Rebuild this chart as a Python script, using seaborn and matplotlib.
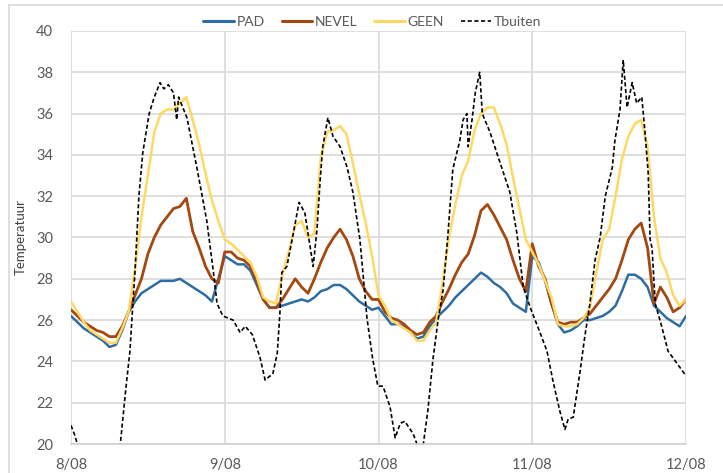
import matplotlib
matplotlib.use("Agg")
import matplotlib.pyplot as plt
import seaborn as sns
import numpy as np
import pandas as pd
from matplotlib.lines import Line2D

# temperatures 8/08 - 12/08, hourly values for the three indoor cases
hours = list(range(0, 97))

pad = [26.2, 25.9, 25.6, 25.4, 25.2, 25.0, 24.7, 24.8, 25.5, 26.4, 26.9, 27.3, 27.5, 27.7, 27.9, 27.9,
       27.9, 28.0, 27.8, 27.6, 27.4, 27.2, 26.9, 28.0, 29.1, 28.9, 28.7, 28.7, 28.4, 27.7, 27.0, 26.6,
       26.6, 26.7, 26.8, 26.9, 27.0, 26.9, 27.1, 27.4, 27.5, 27.7, 27.7, 27.5, 27.2, 26.9, 26.7, 26.5,
       26.6, 26.2, 25.8, 25.8, 25.7, 25.4, 25.1, 25.2, 25.7, 26.1, 26.4, 26.7, 27.1, 27.4, 27.7, 28.0,
       28.3, 28.1, 27.8, 27.6, 27.3, 26.8, 26.6, 26.4, 29.1, 28.8, 27.9, 26.8, 25.8, 25.4, 25.5, 25.7,
       26.0, 26.0, 26.1, 26.2, 26.4, 26.7, 27.4, 28.2, 28.2, 28.0, 27.6, 26.7, 26.4, 26.1, 25.9, 25.7,
       26.2]

nevel = [26.5, 26.2, 25.9, 25.7, 25.5, 25.4, 25.2, 25.2, 25.7, 26.4, 27.2, 28.0, 29.2, 30.0, 30.6, 31.0,
         31.4, 31.5, 31.9, 30.3, 29.5, 28.6, 28.0, 27.8, 29.3, 29.3, 29.0, 28.9, 28.6, 27.9, 27.0, 26.6,
         26.6, 27.0, 27.5, 28.0, 27.6, 27.3, 28.0, 28.8, 29.5, 30.0, 30.4, 29.9, 29.1, 28.0, 27.4, 27.0,
         27.0, 26.4, 26.1, 26.0, 25.8, 25.5, 25.3, 25.4, 25.9, 26.2, 26.9, 27.5, 28.2, 28.8, 29.2, 30.1,
         31.3, 31.6, 31.1, 30.5, 29.9, 28.9, 28.0, 27.4, 29.7, 28.6, 28.0, 26.8, 25.9, 25.8, 25.9, 25.9,
         26.1, 26.3, 26.7, 27.1, 27.5, 28.0, 28.9, 29.9, 30.4, 30.7, 29.5, 26.8, 27.6, 27.1, 26.4, 26.6,
         27.0]

geen = [26.9, 26.4, 25.9, 25.5, 25.3, 25.1, 24.9, 24.9, 25.6, 26.4, 28.5, 31.0, 33.0, 35.1, 36.0, 36.2,
        36.2, 36.5, 36.8, 35.7, 34.5, 33.1, 31.8, 30.8, 29.9, 29.7, 29.4, 29.1, 28.8, 28.1, 27.1, 26.9,
        26.8, 28.2, 29.3, 30.6, 30.8, 30.0, 30.2, 33.9, 35.1, 35.2, 35.4, 35.0, 33.6, 32.1, 30.7, 29.1,
        27.2, 26.7, 26.0, 25.8, 25.6, 25.4, 25.0, 25.0, 25.5, 25.9, 27.8, 30.0, 31.6, 33.0, 33.7, 35.2,
        36.0, 36.3, 36.3, 35.5, 34.5, 32.9, 31.4, 29.9, 29.3, 28.7, 27.9, 27.1, 25.8, 25.7, 25.7, 25.8,
        26.1, 26.6, 28.3, 29.9, 30.4, 32.0, 33.8, 34.9, 35.5, 35.7, 34.4, 31.0, 29.0, 28.3, 27.2, 26.7,
        27.0]

# outside temperature, read at irregular times (hours since 8/08 00:00)
tb_hours = [0, 0.5, 1.0, 2, 4, 6, 7, 7.7, 8.5, 9.2, 9.5, 10, 10.6, 11.2, 12.2, 13.0, 13.9, 14.5, 15.2,
            16.0, 16.5, 16.8, 18.1, 19.7, 21.2, 22.2, 22.8, 23.7, 25.3, 26.4, 27.2, 28.3, 29.5, 30.3,
            31.5, 32.2, 32.6, 32.9, 33.7, 34.7, 35.6, 36.5, 37.0, 37.8, 38.4, 38.9, 39.3, 40.1, 40.9,
            42.0, 43.1, 44.0, 45.1, 46.2, 47.1, 47.9, 48.7, 49.8, 50.6, 51.4, 52.1, 53.4, 54.0, 54.5,
            55.0, 55.7, 56.5, 57.3, 58.1, 58.8, 59.6, 60.7, 61.2, 61.8, 62.0, 62.6, 63.1, 63.8, 64.2,
            65.4, 67.0, 68.5, 69.6, 70.6, 71.7, 73.2, 74.3, 75.2, 76.3, 77.1, 77.6, 78.4, 79.5, 80.2,
            81.0, 81.8, 82.6, 83.4, 84.5, 84.9, 85.7, 86.2, 86.8, 87.6, 88.3, 89.1, 89.6, 90.1, 90.4,
            90.7, 91.2, 92.2, 93.2, 94.6, 96.0]
tb_temp = [20.9, 20.5, 20.0, 19.3, 18.8, 18.9, 19.4, 20.0, 22.5, 24.5, 26.0, 28.4, 32.0, 34.1, 36.0, 36.8,
           37.5, 37.2, 37.4, 37.0, 35.7, 36.8, 35.8, 33.3, 30.8, 28.4, 26.8, 26.2, 26.0, 25.4, 25.7,
           25.3, 24.2, 23.1, 23.4, 24.4, 26.3, 28.3, 28.6, 30.2, 31.7, 31.2, 30.2, 28.6, 30.4, 32.8,
           34.4, 35.8, 34.9, 34.4, 33.4, 32.2, 29.9, 26.1, 24.1, 22.8, 22.8, 21.8, 20.3, 21.0, 21.1,
           20.5, 20.0, 19.6, 20.0, 21.6, 24.1, 26.0, 27.5, 30.0, 33.3, 34.7, 35.7, 36.0, 34.4, 35.7,
           37.0, 38.0, 36.0, 35.1, 33.6, 32.2, 30.2, 27.6, 26.6, 25.4, 24.5, 23.1, 21.6, 20.7, 21.2,
           21.3, 23.6, 25.2, 26.8, 28.9, 30.0, 32.0, 33.4, 34.7, 36.2, 38.6, 36.3, 37.5, 36.5, 36.8,
           35.1, 33.1, 29.9, 29.5, 26.8, 25.7, 24.5, 23.9, 23.3]

day_labels = ["8/08", "9/08", "10/08", "11/08", "12/08"]
y_ticks = list(range(20, 41, 2))

sns.set_style("white")
plt.rcParams['font.family'] = ['Lato', 'DejaVu Sans']

fig = plt.figure(figsize=(7.23, 4.73), dpi=100)
ax = fig.add_axes([71 / 723, 1 - 444 / 473, 615 / 723, 413 / 473])

df = pd.DataFrame({"uur": hours, "PAD": pad, "NEVEL": nevel, "GEEN": geen})
tb = pd.DataFrame({"uur": tb_hours, "Tbuiten": tb_temp})

sns.lineplot(data=df, x="uur", y="PAD", ax=ax, color="#2E6DA4", linewidth=1.8, label="PAD")
sns.lineplot(data=df, x="uur", y="NEVEL", ax=ax, color="#A5480F", linewidth=2.0, label="NEVEL")
sns.lineplot(data=df, x="uur", y="GEEN", ax=ax, color="#FFD863", linewidth=1.8, label="GEEN")
sns.lineplot(data=tb, x="uur", y="Tbuiten", ax=ax, color="black", linewidth=1.2,
             linestyle=(0, (2.5, 1.5)), label="Tbuiten")

ax.set_xlim(0, 96)
ax.set_ylim(20, 40)
ax.set_yticks(y_ticks)
ax.set_xticks([0, 24, 48, 72, 96])
ax.set_xticklabels(day_labels)
ax.set_xticks([6, 12, 18, 30, 36, 42, 54, 60, 66, 78, 84, 90], minor=True)
ax.tick_params(axis="x", which="minor", direction="in", length=4, color="#D0D0D0", width=1)
ax.tick_params(axis="x", which="major", length=0, pad=10, labelsize=10.5, labelcolor="#595959")
ax.tick_params(axis="y", length=0, pad=13, labelsize=10.5, labelcolor="#595959")
ax.grid(True, which="major", color="#D9D9D9", linewidth=1.2)
ax.set_axisbelow(True)
for side in ["top", "right", "left"]:
    ax.spines[side].set_visible(False)
ax.spines["bottom"].set_color("#D0D0D0")
ax.spines["bottom"].set_linewidth(1.2)
ax.set_xlabel("")
ax.set_ylabel("Temperatuur", fontsize=9.5, color="#404040")
ax.yaxis.set_label_coords(-0.072, 0.5)

handles = [Line2D([], [], color="#2E6DA4", lw=2.2),
           Line2D([], [], color="#A5480F", lw=2.2),
           Line2D([], [], color="#FFD863", lw=2.2),
           Line2D([], [], color="black", lw=1.2, linestyle=(0, (2.5, 1.5)))]
ax.legend(handles, ["PAD", "NEVEL", "GEEN", "Tbuiten"], loc="center",
          bbox_to_anchor=(0.49, 1.022), ncol=4, frameon=False, fontsize=10,
          handlelength=2.2, handletextpad=0.2, columnspacing=1.2, labelcolor="#595959",
          borderpad=0)

# chart area border
fig.add_artist(Line2D([9 / 723, 1], [1 - 5 / 473, 1 - 5 / 473], color="#D9D9D9", lw=1.2))
fig.add_artist(Line2D([9 / 723, 9 / 723], [0, 1 - 5 / 473], color="#D9D9D9", lw=1.2))

fig.savefig("out.png", dpi=100)
